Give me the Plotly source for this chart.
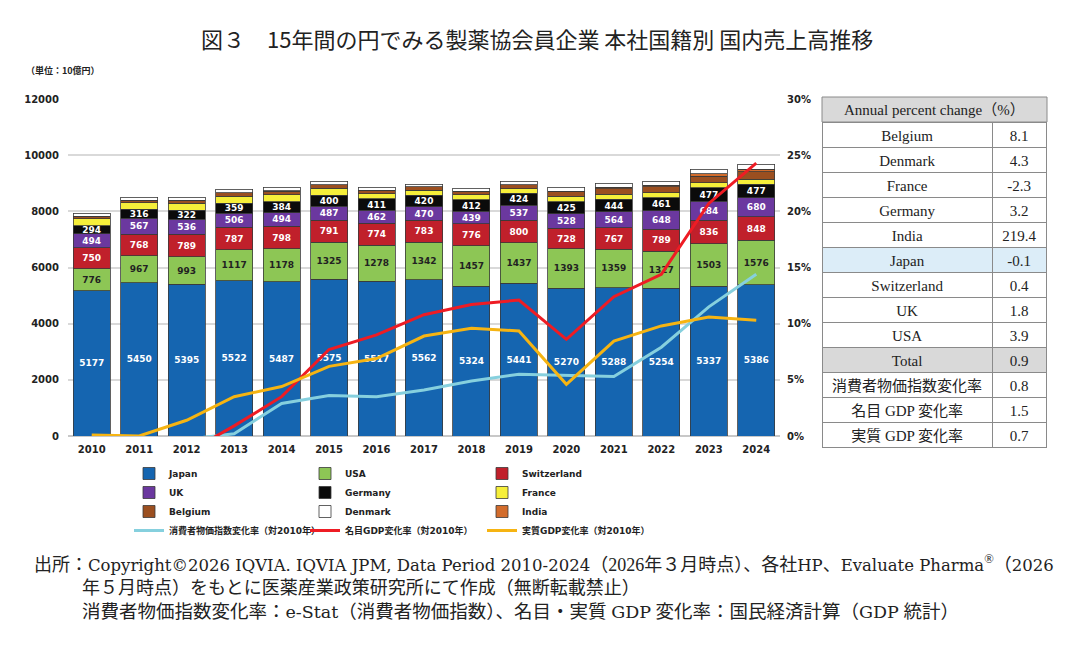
import plotly.graph_objects as go

W, H = 1074, 646

years = [str(y) for y in range(2010, 2025)]
japan = [5177, 5450, 5395, 5522, 5487, 5575, 5517, 5562, 5324, 5441, 5270, 5288, 5254, 5337, 5386]
usa = [776, 967, 993, 1117, 1178, 1325, 1278, 1342, 1457, 1437, 1393, 1359, 1327, 1503, 1576]
switzerland = [750, 768, 789, 787, 798, 791, 774, 783, 776, 800, 728, 767, 789, 836, 848]
uk = [494, 567, 536, 506, 494, 487, 462, 470, 439, 537, 528, 564, 648, 684, 680]
germany = [294, 316, 322, 359, 384, 400, 411, 420, 412, 424, 425, 444, 461, 477, 477]
france = [250, 235, 245, 250, 255, 240, 190, 180, 175, 170, 185, 190, 185, 180, 180]
belgium = [85, 90, 100, 115, 120, 125, 115, 110, 125, 135, 165, 200, 210, 240, 255]
india = [3, 5, 8, 7, 10, 10, 7, 4, 6, 9, 30, 45, 54, 83, 101]
denmark = [110, 110, 120, 130, 138, 125, 110, 100, 115, 125, 140, 150, 150, 165, 180]

cpi = [None, -0.3, -0.3, 0.2, 2.9, 3.6, 3.5, 4.1, 4.9, 5.5, 5.4, 5.3, 7.9, 11.5, 14.4]
nominal_gdp = [0.0, -1.9, -1.5, 0.9, 3.5, 7.7, 9.0, 10.8, 11.7, 12.1, 8.6, 12.4, 14.4, 20.7, 24.3]
real_gdp = [0.1, 0.0, 1.4, 3.5, 4.4, 6.2, 6.9, 8.9, 9.6, 9.35, 4.6, 8.45, 9.8, 10.6, 10.3]

table_header = "Annual percent change（%）"
table_labels = ["Belgium", "Denmark", "France", "Germany", "India", "Japan", "Switzerland",
                "UK", "USA", "Total", "消費者物価指数変化率", "名目 GDP 変化率", "実質 GDP 変化率"]
table_values = ["8.1", "4.3", "-2.3", "3.2", "219.4", "-0.1", "0.4", "1.8", "3.9", "0.9",
                "0.8", "1.5", "0.7"]

left_ticks = [0, 2000, 4000, 6000, 8000, 10000, 12000]
right_ticks = [0, 5, 10, 15, 20, 25, 30]

def px(x):
    return x / W

def py(y):
    return 1 - y / H

fig = go.Figure()

bar_font = dict(family="DejaVu Sans", size=9, weight="bold")
series = [
    ("Japan", japan, "#1565b0", "white", True, "legend"),
    ("USA", usa, "#8dc655", "#222222", True, "legend2"),
    ("Switzerland", switzerland, "#c0202b", "white", True, "legend3"),
    ("UK", uk, "#6b389f", "white", True, "legend"),
    ("Germany", germany, "#0b0b0b", "white", True, "legend2"),
    ("France", france, "#f6ef3a", None, False, "legend3"),
    ("Belgium", belgium, "#9b4f20", None, False, "legend"),
    ("India", india, "#d26c2c", None, False, "legend3"),
    ("Denmark", denmark, "#ffffff", None, False, "legend2"),
]
for name, vals, col, tcol, show_text, lg in series:
    kw = {}
    if show_text:
        kw = dict(text=[str(v) for v in vals], textposition="inside",
                  insidetextanchor="middle", textangle=0,
                  textfont=dict(color=tcol, **bar_font), constraintext="none")
    fig.add_trace(go.Bar(x=years, y=vals, name=name, legend=lg,
                         marker=dict(color=col, line=dict(color="#3a3a3a", width=0.8)),
                         hoverinfo="skip", **kw))

lines = [
    ("消費者物価指数変化率（対2010年）", cpi, "#86d0de", "legend"),
    ("名目GDP変化率（対2010年）", nominal_gdp, "#ee1c24", "legend2"),
    ("実質GDP変化率（対2010年）", real_gdp, "#f6b412", "legend3"),
]
for name, vals, col, lg in lines:
    fig.add_trace(go.Scatter(x=years, y=vals, name=name, legend=lg, yaxis="y2",
                             mode="lines", line=dict(color=col, width=3),
                             connectgaps=False, hoverinfo="skip"))

# Table (first data row used as header row for identical styling)
fills_l, fills_r = [], []
for lab in table_labels[1:]:
    if lab == "Japan":
        c = "#dcedf8"
    elif lab == "Total":
        c = "#d9d9d9"
    else:
        c = "white"
    fills_l.append(c)
    fills_r.append(c)
tfont = dict(family="Liberation Serif, Noto Sans CJK JP", size=15, color="#222222")
fig.add_trace(go.Table(
    domain=dict(x=[px(822), px(1047)], y=[py(460), py(122)]),
    columnwidth=[171, 54],
    header=dict(values=[table_labels[0], table_values[0]], fill=dict(color="white"),
                line=dict(color="#8a8a8a", width=1), align="center", font=tfont, height=25),
    cells=dict(values=[table_labels[1:], table_values[1:]],
               fill=dict(color=[fills_l, fills_r]),
               line=dict(color="#8a8a8a", width=1), align="center", font=tfont, height=25),
))

fig.add_shape(type="rect", xref="paper", yref="paper", x0=px(822), x1=px(1047),
              y0=py(122), y1=py(97), fillcolor="#d9d9d9", line=dict(color="#8a8a8a", width=1))
fig.add_annotation(text=table_header, xref="paper", yref="paper", x=px(934.5), y=py(110),
                   showarrow=False, font=tfont, xanchor="center", yanchor="middle")

axis_font = dict(family="DejaVu Sans", size=10, color="#222222", weight="bold")
fig.update_layout(
    width=W, height=H,
    margin=dict(l=0, r=0, t=0, b=0, autoexpand=False),
    paper_bgcolor="white", plot_bgcolor="white",
    barmode="stack", bargap=0.22,
    xaxis=dict(domain=[px(68), px(780)], type="category", tickfont=axis_font,
               showgrid=False, showline=False, ticks="", automargin=False,
               ticklabelstandoff=6),
    yaxis=dict(domain=[py(436), py(99)], range=[0, 12000], tickvals=left_ticks,
               ticktext=[str(v) for v in left_ticks], automargin=False,
               tickfont=axis_font, showgrid=True, gridcolor="#d9d9d9", gridwidth=2,
               zeroline=True, zerolinecolor="#c8c8c8", zerolinewidth=2, ticks="",
               ticklabelstandoff=8),
    yaxis2=dict(overlaying="y", side="right", range=[0, 30], tickvals=right_ticks,
                ticktext=[f"{v}%" for v in right_ticks], tickfont=axis_font, automargin=False,
                showgrid=False, zeroline=False, ticks="", ticklabelstandoff=6),
    showlegend=True,
)
leg_font = dict(family="DejaVu Sans, Noto Sans CJK JP", size=9, color="#222222", weight="bold")
for key, xpos in [("legend", 137), ("legend2", 313), ("legend3", 490)]:
    fig.update_layout({key: dict(x=px(xpos - 8), y=py(459), xanchor="left", yanchor="top",
                                 orientation="v", traceorder="normal", font=leg_font,
                                 bgcolor="rgba(0,0,0,0)", tracegroupgap=0, itemwidth=30)})

fig.add_annotation(text="図３　15年間の円でみる製薬協会員企業 本社国籍別 国内売上高推移",
                   xref="paper", yref="paper", x=px(537), y=py(38), showarrow=False,
                   font=dict(family="Noto Sans CJK JP", size=22, color="#222222"),
                   xanchor="center", yanchor="middle")
fig.add_annotation(text="（単位：10億円）", xref="paper", yref="paper", x=px(24), y=py(70),
                   showarrow=False, font=dict(family="Noto Sans CJK JP", size=9, color="#222222",
                                              weight="bold"),
                   xanchor="left", yanchor="middle")

def lat(s, size=16.5):
    return f'<span style="font-family:DejaVu Serif;font-size:{size}px">{s}</span>'

foot_font = dict(family="Liberation Serif, Noto Sans CJK JP", size=18, color="#222222")
footer = [
    (32, 563, "出所：" + lat("Copyright©2026 IQVIA. IQVIA JPM, Data Period 2010-2024")
     + "（2026年３月時点）、各社" + lat("HP") + "、" + lat("Evaluate Pharma")
     + "<sup>®</sup>（" + lat("2026")),
    (80, 588, "年５月時点）をもとに医薬産業政策研究所にて作成（無断転載禁止）"),
    (80, 612, "消費者物価指数変化率：" + lat("e-Stat", 17.5) + "（消費者物価指数）、名目・実質 "
     + lat("GDP", 17.5) + " 変化率：国民経済計算（" + lat("GDP", 17.5) + " 統計）"),
]
for i, (x, y, t) in enumerate(footer):
    f = dict(foot_font)
    if i == 2:
        f["size"] = 18.5
    fig.add_annotation(text=t, xref="paper", yref="paper", x=px(x), y=py(y), showarrow=False,
                       font=f, xanchor="left", yanchor="middle")

fig.write_html("out.html")
